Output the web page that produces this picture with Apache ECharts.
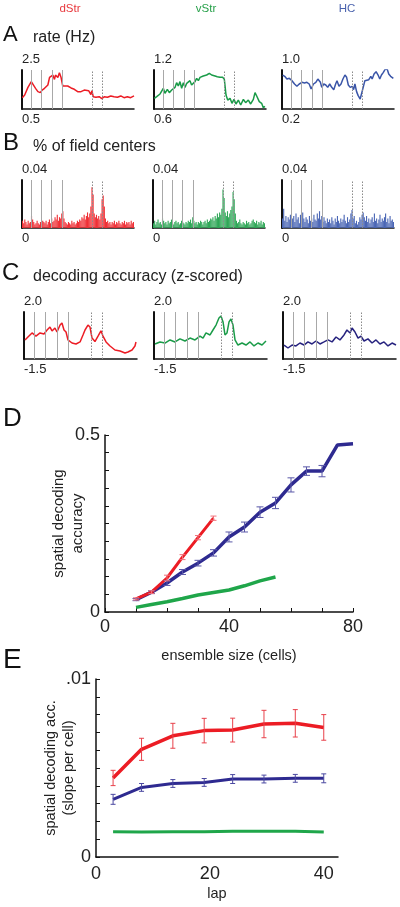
<!DOCTYPE html>
<html><head><meta charset="utf-8">
<script src="https://cdn.jsdelivr.net/npm/echarts@6.0.0/dist/echarts.min.js"></script>
<style>html,body{margin:0;padding:0;background:#fff}#c{width:400px;height:907px}</style>
</head><body><div id="c"></div>
<script>
const FONT = 'Liberation Sans, Arial, Helvetica, sans-serif';
const regionNames = ['dStr', 'vStr', 'HC'];
const regionColors = ['#e8383d', '#27a04a', '#4a62ad'];

// ---- Panel A: firing rate (Hz) vs track position (% of track) ----
const rateDStr = [[0.3,1.08],[2.4,1.22],[5.3,1.61],[8.3,1.90],[9.8,1.85],[12.1,1.56],[14.2,1.39],[16.3,1.34],[18.0,1.47],[20.1,1.56],[21.6,1.47],[23.1,1.73],[24.6,2.12],[26.0,2.19],[27.5,2.24],[29.0,2.02],[29.9,2.24],[32.0,2.12],[33.4,2.36],[34.9,2.11],[36.4,1.68],[37.9,1.61],[40.8,1.68],[43.8,1.58],[46.7,1.51],[49.7,1.39],[52.7,1.39],[55.6,1.47],[57.1,1.37],[59.5,1.44],[61.5,1.24],[62.4,1.44],[63.6,1.13],[66.0,1.10],[68.9,1.13],[71.3,1.03],[73.4,1.13],[76.3,1.10],[79.3,1.17],[82.2,1.13],[85.2,1.10],[88.2,1.17],[91.1,1.08],[94.1,1.13],[97.0,1.08],[100,1.17]];
const rateVStr = [[0.3,0.764],[2.4,0.790],[5.4,0.831],[8.3,0.918],[9.8,0.841],[11.9,0.903],[13.7,0.851],[15.8,0.892],[17.3,0.918],[18.8,0.933],[20.2,1.005],[21.7,0.954],[23.2,1.021],[24.7,0.918],[26.2,1.005],[27.7,0.933],[29.2,0.995],[30.7,0.969],[32.1,1.036],[33.6,0.969],[35.1,0.995],[36.6,1.021],[38.1,1.072],[39.6,1.036],[41.1,1.087],[44.0,1.108],[47.0,1.123],[49.4,1.149],[51.5,1.123],[54.5,1.108],[56.5,1.097],[58.9,1.087],[61.3,1.087],[62.8,1.056],[64.3,0.815],[65.8,0.738],[67.9,0.764],[69.6,0.687],[71.4,0.749],[73.2,0.677],[75.3,0.738],[77.4,0.662],[79.8,0.749],[81.8,0.697],[84.2,0.738],[86.3,0.677],[88.7,0.749],[90.2,0.851],[91.7,0.800],[94.0,0.713],[96.1,0.687],[97.6,0.62],[99.1,0.64]];
const rateHC = [[0.6,0.897],[2.4,0.870],[4.4,0.815],[6.5,0.829],[8.9,0.781],[11.2,0.713],[13.3,0.665],[15.4,0.713],[17.8,0.747],[20.1,0.733],[22.2,0.747],[24.3,0.713],[26.0,0.610],[28.1,0.713],[30.2,0.747],[32.0,0.815],[33.1,0.850],[34.3,0.747],[35.5,0.644],[37.3,0.713],[39.1,0.692],[40.8,0.644],[42.6,0.713],[44.4,0.644],[46.2,0.597],[47.9,0.713],[49.1,0.781],[50.9,0.665],[52.7,0.713],[54.4,0.815],[56.2,0.897],[57.7,0.850],[59.2,0.692],[60.9,0.644],[62.7,0.665],[63.9,0.597],[65.1,0.713],[66.6,0.556],[68.0,0.474],[69.8,0.405],[71.0,0.419],[72.5,0.644],[74.0,0.781],[75.4,0.815],[77.5,0.802],[79.3,0.870],[80.5,0.815],[82.2,0.918],[84.0,0.966],[85.8,0.897],[87.3,0.815],[88.8,0.897],[90.5,0.952],[92.3,1.021],[94.1,1.007],[95.3,0.918],[97.0,0.870],[98.2,0.897],[99.4,0.829]];
const rateTop = ['2.5', '1.2', '1.0'];
const rateBottom = ['0.5', '0.6', '0.2'];

// ---- Panel B: % of field centers per spatial bin ----
const fieldDStr = [.006,.004,.007,.005,.003,.006,.004,.005,.01,.007, .005,.003,.004,.006,.004,.003,.005,.004,.006,.005, .004,.006,.003,.005,.007,.004,.008,.005,.006,.009, .007,.011,.006,.009,.008,.012,.014,.008,.005,.004, .003,.005,.004,.003,.006,.004,.005,.003,.004,.006, .005,.007,.006,.009,.008,.011,.007,.01,.013,.009, .012,.018,.034,.028,.012,.009,.011,.008,.01,.007, .012,.024,.027,.018,.008,.005,.006,.004,.005,.003, .005,.004,.006,.003,.005,.004,.006,.004,.003,.005, .004,.006,.003,.005,.004,.005,.003,.006,.004,.005];
const fieldVStr = [.004,.006,.003,.005,.007,.004,.005,.003,.008,.006, .004,.005,.003,.006,.004,.005,.007,.004,.003,.005, .006,.004,.005,.003,.004,.006,.005,.004,.003,.005, .004,.006,.005,.007,.004,.009,.006,.004,.005,.003, .005,.004,.006,.005,.003,.005,.006,.004,.007,.005, .006,.008,.007,.009,.006,.01,.008,.012,.009,.013, .011,.016,.032,.025,.013,.01,.014,.009,.012,.015, .018,.03,.024,.012,.006,.004,.005,.007,.004,.003, .005,.004,.003,.006,.004,.005,.003,.004,.006,.007, .005,.004,.006,.003,.005,.004,.006,.003,.005,.004];
const fieldHC = [.008,.016,.006,.01,.005,.009,.007,.011,.006,.008, .01,.005,.012,.007,.009,.004,.011,.006,.013,.008, .005,.009,.007,.004,.01,.006,.008,.005,.011,.007, .006,.012,.008,.014,.007,.01,.005,.009,.006,.004, .008,.005,.007,.004,.009,.006,.003,.008,.005,.01, .006,.004,.008,.005,.007,.011,.006,.004,.009,.005, .007,.012,.015,.008,.01,.004,.006,.003,.005,.009, .007,.011,.013,.009,.006,.01,.005,.008,.004,.007, .009,.005,.012,.006,.008,.004,.007,.011,.005,.008, .006,.009,.012,.005,.008,.004,.01,.006,.007,.005];
const fieldTop = ['0.04', '0.04', '0.04'];
const fieldBottom = ['0', '0', '0'];

// ---- Panel C: decoding accuracy (z-scored) vs track position ----
const decDStr = [[0.9,-0.08],[3.5,0.14],[7.1,0.44],[10.6,0.21],[14.2,0.44],[17.7,0.36],[20.4,0.66],[23.0,0.88],[24.8,0.59],[27.4,0.81],[29.2,0.51],[31.9,1.03],[33.6,1.18],[35.4,0.66],[37.2,0.51],[38.9,-0.08],[42.5,-0.31],[46.0,-0.38],[49.6,-0.23],[52.2,0.29],[54.0,0.66],[56.6,1.03],[58.4,0.88],[60.2,0.06],[62.8,-0.2],[65.5,0.2],[68.1,0.6],[69.9,0.21],[72.6,-0.23],[76.1,-0.53],[80.5,-0.83],[85.0,-0.90],[89.4,-1.05],[92.0,-0.98],[95.6,-0.83],[98.2,-0.53],[99.1,-0.23]];
const decVStr = [[0.9,-0.38],[5.3,-0.23],[9.7,-0.31],[14.2,-0.08],[18.6,-0.23],[23.0,0.0],[27.4,-0.16],[31.9,0.06],[36.3,-0.08],[40.7,0.21],[43.4,0.06],[46.0,0.44],[49.6,0.29],[52.2,0.66],[54.9,1.03],[57.5,1.55],[59.3,1.70],[61.1,1.26],[62.8,0.29],[64.6,0.44],[66.4,1.26],[68.1,1.48],[69.9,1.03],[71.7,-0.08],[74.3,-0.46],[77.9,-0.31],[81.4,-0.46],[85.0,-0.23],[88.5,-0.53],[92.0,-0.31],[95.6,-0.46],[99.1,-0.16]];
const decHC = [[0.9,-0.46],[4.4,-0.68],[8.0,-0.46],[11.5,-0.53],[15.0,-0.31],[18.6,-0.46],[22.1,-0.23],[25.7,-0.38],[29.2,-0.16],[32.7,-0.38],[36.3,-0.23],[39.8,-0.08],[43.4,-0.23],[46.9,0.14],[50.4,-0.08],[54.0,0.29],[56.6,0.66],[59.3,0.44],[61.1,0.81],[63.7,0.51],[66.4,0.06],[69.0,0.21],[71.7,-0.16],[75.2,0.0],[78.8,-0.31],[82.3,-0.08],[85.8,-0.38],[89.4,-0.23],[92.9,-0.53],[96.5,-0.31],[100,-0.46]];
const decTop = ['2.0', '2.0', '2.0'];
const decBottom = ['-1.5', '-1.5', '-1.5'];

// landmark lines (% of track)
const landmarksAB = [8.2, 17.4, 26.6, 35.9];
const rewardsAB = [62.6, 72];
const landmarksBbins = [8, 17, 26, 35];
const rewardsBbins = [62, 71];
const landmarksC = [9.2, 19.2, 29.4, 39.3];
const rewardsC = [59.7, 69.6];

// ---- Panel D: spatial decoding accuracy vs ensemble size ----
const sizesDStr = [10, 15, 20, 25, 30, 35];
const accDStr = [0.037, 0.056, 0.096, 0.155, 0.21, 0.265];
const errDStr = [0.003, 0.004, 0.008, 0.007, 0.006, 0.006];
const sizesHC = [10, 15, 20, 25, 30, 35, 40, 45, 50, 55, 60, 65, 70, 75, 80];
const accHC = [0.035, 0.056, 0.082, 0.113, 0.138, 0.167, 0.212, 0.24, 0.282, 0.308, 0.359, 0.398, 0.398, 0.472, 0.475];
const errHC = [0.003, 0.004, 0.007, 0.007, 0.008, 0.009, 0.014, 0.014, 0.015, 0.016, 0.02, 0.012, 0.016, 0, 0];
const sizesVStr = [10, 15, 20, 25, 30, 35, 40, 45, 50, 55];
const accVStr = [0.013, 0.021, 0.029, 0.038, 0.048, 0.055, 0.062, 0.074, 0.088, 0.099];
const dYLabels = ['0', '0.5'];
const dXLabels = ['0', '40', '80'];

// ---- Panel E: slope per cell vs lap ----
const laps = [3, 8, 13.5, 19, 24, 29.5, 35, 40];
const slopeDStr = [0.00444, 0.00605, 0.00681, 0.0071, 0.00713, 0.00747, 0.00751, 0.00728];
const slopeDStrErr = [0.00043, 0.00062, 0.0007, 0.00069, 0.00067, 0.00077, 0.00077, 0.00072];
const slopeHC = [0.00324, 0.00391, 0.00413, 0.00419, 0.00438, 0.00438, 0.00442, 0.00442];
const slopeHCErr = [0.00028, 0.00022, 0.00022, 0.00022, 0.00025, 0.00022, 0.00022, 0.00025];
const slopeVStr = [0.00142, 0.0014, 0.00142, 0.00142, 0.00144, 0.00144, 0.00145, 0.0014];
const eYLabels = ['0', '.01'];
const eXLabels = ['0', '20', '40'];

// ================= build option =================
const grids = [], xAxes = [], yAxes = [], series = [];
function addGrid(g, xa, ya) {
  grids.push(Object.assign({containLabel: false, outerBoundsMode: 'none'}, g));
  const i = grids.length - 1;
  xAxes.push(Object.assign({gridIndex: i}, xa));
  yAxes.push(Object.assign({gridIndex: i}, ya));
  return i;
}
const txt = (size, extra) => Object.assign({fontFamily: FONT, fontSize: size, color: '#222'}, extra || {});

function smallAxes(min, max, top, bottom, xType, cats) {
  const xa = {
    type: xType || 'value', splitLine: {show: false}, axisTick: {show: false}, axisLabel: {show: false},
    axisLine: {show: true, onZero: false, lineStyle: {color: '#111', width: 1.5}},
    name: bottom, nameLocation: 'start', nameGap: 0, nameMoveOverlap: false,
    nameTextStyle: txt(13, {align: 'left', verticalAlign: 'top', padding: [4, 0, 0, 0]})
  };
  if (xType === 'category') { xa.data = cats; xa.boundaryGap = true; } else { xa.min = 0; xa.max = 100; }
  const ya = {
    type: 'value', min: min, max: max, splitLine: {show: false}, axisTick: {show: false}, axisLabel: {show: false},
    axisLine: {show: true, lineStyle: {color: '#111', width: 2}},
    name: top, nameLocation: 'end', nameGap: 4, nameMoveOverlap: false,
    nameTextStyle: txt(13, {align: 'left', verticalAlign: 'bottom'})
  };
  return [xa, ya];
}
function guideSeries(gi, solid, dotted) {
  return {
    type: 'line', xAxisIndex: gi, yAxisIndex: gi, data: [], z: 1, silent: true,
    markLine: {
      symbol: 'none', silent: true, animation: false, label: {show: false},
      data: solid.map(v => ({xAxis: v, lineStyle: {color: '#a8a8a8', type: 'solid', width: 1}}))
        .concat(dotted.map(v => ({xAxis: v, lineStyle: {color: '#8a8a8a', type: [1.5, 1.5], width: 1}})))
    }
  };
}

// Panel A
const aLefts = [22, 154, 282];
const aData = [rateDStr, rateVStr, rateHC];
const aColors = ['#ec1c24', '#1a9b48', '#3a55a8'];
for (let k = 0; k < 3; k++) {
  const [xa, ya] = smallAxes(parseFloat(rateBottom[k]), parseFloat(rateTop[k]), rateTop[k], rateBottom[k]);
  const gi = addGrid({left: aLefts[k], top: 70, width: 112, height: 39}, xa, ya);
  series.push(guideSeries(gi, landmarksAB, rewardsAB));
  series.push({type: 'line', xAxisIndex: gi, yAxisIndex: gi, data: aData[k], showSymbol: false, z: 3,
    lineStyle: {color: aColors[k], width: 1.5}, itemStyle: {color: aColors[k]}});
}

// Panel B
const bLefts = [22, 153, 282];
const bData = [fieldDStr, fieldVStr, fieldHC];
const bColors = ['#ef3036', '#2fa757', '#4a66b5'];
const bins = fieldDStr.map((_, i) => String(i));
for (let k = 0; k < 3; k++) {
  const [xa, ya] = smallAxes(0, parseFloat(fieldTop[k]), fieldTop[k], fieldBottom[k], 'category', bins);
  const gi = addGrid({left: bLefts[k], top: 180, width: 112, height: 48}, xa, ya);
  series.push(guideSeries(gi, landmarksBbins, rewardsBbins));
  series.push({type: 'bar', xAxisIndex: gi, yAxisIndex: gi, data: bData[k], z: 3, barCategoryGap: '0%',
    itemStyle: {color: bColors[k]}});
}

// Panel C
const cLefts = [24, 154, 283];
const cData = [decDStr, decVStr, decHC];
const cColors = ['#ec1c24', '#1a9b48', '#27237f'];
for (let k = 0; k < 3; k++) {
  const [xa, ya] = smallAxes(parseFloat(decBottom[k]), parseFloat(decTop[k]), decTop[k], decBottom[k]);
  const gi = addGrid({left: cLefts[k], top: 312, width: 113, height: 47}, xa, ya);
  series.push(guideSeries(gi, landmarksC, rewardsC));
  series.push({type: 'line', xAxisIndex: gi, yAxisIndex: gi, data: cData[k], showSymbol: false, z: 3,
    lineStyle: {color: cColors[k], width: 1.5}, itemStyle: {color: cColors[k]}});
}

function errorBars(gi, xs, means, errs, color, capW, lw) {
  const data = [];
  xs.forEach((x, i) => { if (errs[i] > 0) data.push([x, means[i] - errs[i], means[i] + errs[i]]); });
  return {
    type: 'custom', xAxisIndex: gi, yAxisIndex: gi, z: 5, silent: true, data: data,
    renderItem: function (params, api) {
      const lo = api.coord([api.value(0), api.value(1)]);
      const hi = api.coord([api.value(0), api.value(2)]);
      const st = {stroke: color, lineWidth: lw, fill: null};
      return {type: 'group', children: [
        {type: 'line', shape: {x1: lo[0], y1: lo[1], x2: hi[0], y2: hi[1]}, style: st},
        {type: 'line', shape: {x1: lo[0] - capW, y1: lo[1], x2: lo[0] + capW, y2: lo[1]}, style: st},
        {type: 'line', shape: {x1: hi[0] - capW, y1: hi[1], x2: hi[0] + capW, y2: hi[1]}, style: st}
      ]};
    }
  };
}
const pick = (labels) => (v) => { const m = labels.find(l => Math.abs(parseFloat(l) - v) < 1e-9); return m === undefined ? '' : m; };

// Panel D
const giD = addGrid({left: 105, top: 435, width: 248, height: 177}, {
  type: 'value', min: 0, max: 80, interval: 10, splitLine: {show: false},
  axisLine: {show: true, onZero: false, lineStyle: {color: '#111', width: 1.5}},
  axisTick: {show: true, inside: true, length: 4, lineStyle: {color: '#111', width: 1}},
  axisLabel: Object.assign(txt(18), {margin: 6, formatter: pick(dXLabels)}),
  name: 'ensemble size (cells)', nameLocation: 'middle', nameGap: 36, nameMoveOverlap: false, nameTextStyle: txt(14.5)
}, {
  type: 'value', min: 0, max: 0.5, interval: 0.05, splitLine: {show: false},
  axisLine: {show: true, lineStyle: {color: '#111', width: 1.5}},
  axisTick: {show: true, inside: true, length: 4, lineStyle: {color: '#111', width: 1}},
  axisLabel: Object.assign(txt(18), {margin: 5, formatter: pick(dYLabels)}),
  name: 'spatial decoding\naccuracy', nameLocation: 'middle', nameGap: 18, nameRotate: 90, nameMoveOverlap: false,
  nameTextStyle: txt(15, {lineHeight: 19})
});
const zip = (xs, ys) => xs.map((x, i) => [x, ys[i]]);
series.push({type: 'line', xAxisIndex: giD, yAxisIndex: giD, data: zip(sizesVStr, accVStr), showSymbol: false, z: 3,
  lineStyle: {color: '#1fa64a', width: 3.5}, itemStyle: {color: '#1fa64a'}});
series.push({type: 'line', xAxisIndex: giD, yAxisIndex: giD, data: zip(sizesHC, accHC), showSymbol: false, z: 3,
  lineStyle: {color: '#2e2a90', width: 3.5}, itemStyle: {color: '#2e2a90'}});
series.push({type: 'line', xAxisIndex: giD, yAxisIndex: giD, data: zip(sizesDStr, accDStr), showSymbol: false, z: 4,
  lineStyle: {color: '#ec1c24', width: 3}, itemStyle: {color: '#ec1c24'}});
series.push(errorBars(giD, sizesHC, accHC, errHC, '#5a58a8', 3.5, 1));
series.push(errorBars(giD, sizesDStr, accDStr, errDStr, '#f0707a', 3, 1));

// Panel E
const giE = addGrid({left: 96, top: 679, width: 242, height: 178}, {
  type: 'value', min: 0, max: 42.5, interval: 20, splitLine: {show: false},
  axisLine: {show: true, onZero: false, lineStyle: {color: '#111', width: 1.5}},
  axisTick: {show: false},
  axisLabel: Object.assign(txt(18), {margin: 8, formatter: pick(eXLabels)}),
  name: 'lap', nameLocation: 'middle', nameGap: 29, nameMoveOverlap: false, nameTextStyle: txt(14.5)
}, {
  type: 'value', min: 0, max: 0.01, interval: 0.001, splitLine: {show: false},
  axisLine: {show: true, lineStyle: {color: '#111', width: 1.5}},
  axisTick: {show: true, inside: true, length: 4, lineStyle: {color: '#111', width: 1}},
  axisLabel: Object.assign(txt(18), {margin: 5, formatter: pick(eYLabels)}),
  name: 'spatial decoding acc.\n(slope per cell)', nameLocation: 'middle', nameGap: 18, nameRotate: 90, nameMoveOverlap: false,
  nameTextStyle: txt(14.5, {lineHeight: 18})
});
series.push({type: 'line', xAxisIndex: giE, yAxisIndex: giE, data: zip(laps, slopeVStr), showSymbol: false, z: 3,
  lineStyle: {color: '#1fa64a', width: 3}, itemStyle: {color: '#1fa64a'}});
series.push({type: 'line', xAxisIndex: giE, yAxisIndex: giE, data: zip(laps, slopeHC), showSymbol: false, z: 3,
  lineStyle: {color: '#2e2a90', width: 3}, itemStyle: {color: '#2e2a90'}});
series.push({type: 'line', xAxisIndex: giE, yAxisIndex: giE, data: zip(laps, slopeDStr), showSymbol: false, z: 3,
  lineStyle: {color: '#ec1c24', width: 3.5}, itemStyle: {color: '#ec1c24'}});
series.push(errorBars(giE, laps, slopeHC, slopeHCErr, '#4a48a0', 2.5, 1));
series.push(errorBars(giE, laps, slopeDStr, slopeDStrErr, '#e8404a', 2.5, 1));

// text labels
const gText = (x, y, text, size, color, align) => ({type: 'text', x: x, y: y, silent: true,
  style: {text: text, fill: color || '#111', font: size + 'px ' + FONT, align: align || 'left', verticalAlign: 'middle'}});
const graphics = [
  gText(70, 9, regionNames[0], 11.5, regionColors[0], 'center'),
  gText(206, 9, regionNames[1], 11.5, regionColors[1], 'center'),
  gText(347, 9, regionNames[2], 11.5, regionColors[2], 'center'),
  gText(3, 35, 'A', 22), gText(33, 37.5, 'rate (Hz)', 16, '#222'),
  gText(3, 143.5, 'B', 24), gText(33, 146.5, '% of field centers', 16, '#222'),
  gText(2, 273.5, 'C', 24),  gText(33, 276.5, 'decoding accuracy (z-scored)', 16, '#222'),
  gText(3, 419, 'D', 26),
  gText(3, 660, 'E', 28)
];

const chart = echarts.init(document.getElementById('c'), null, {renderer: 'canvas'});
chart.setOption({
  animation: false, backgroundColor: '#fff',
  grid: grids, xAxis: xAxes, yAxis: yAxes, series: series, graphic: graphics
});
</script></body></html>
